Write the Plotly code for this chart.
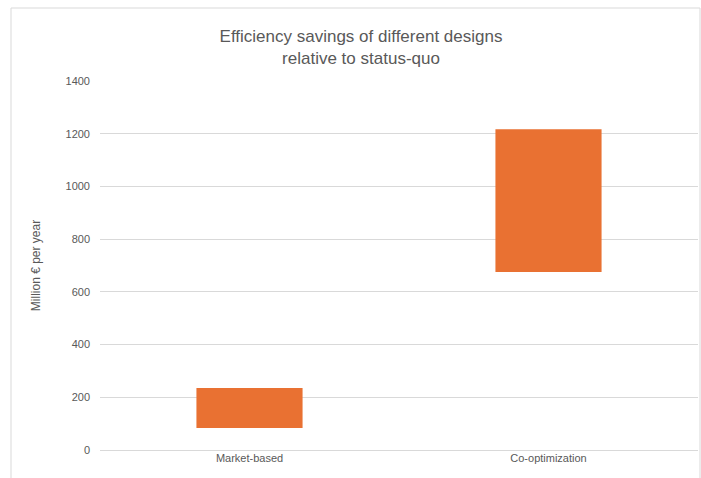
import plotly.graph_objects as go

designs = ["Market-based", "Co-optimization"]
savings_low = [83, 675]
savings_high = [235, 1217]
y_ticks = [0, 200, 400, 600, 800, 1000, 1200, 1400]

bar_heights = [hi - lo for lo, hi in zip(savings_low, savings_high)]

# plot area geometry in pixels (used for the outer frame and title placement)
W, H = 701, 478
L, R, T, B = 100, 3, 81, 28
PW, PH = W - L - R, H - T - B

fig = go.Figure(
    go.Bar(
        x=designs,
        y=bar_heights,
        base=savings_low,
        width=0.355,
        marker=dict(color="#E97132", line=dict(width=0)),
        hoverinfo="x+y",
    )
)

FONT = "Liberation Sans, Arial, sans-serif"
axis_font = dict(family=FONT, size=11, color="#595959")

fig.update_layout(
    width=W,
    height=H,
    margin=dict(l=L, r=R, t=T, b=B),
    paper_bgcolor="white",
    plot_bgcolor="white",
    showlegend=False,
    title=dict(
        text="Efficiency savings of different designs<br>relative to status-quo",
        x=(361 - L) / PW,
        xanchor="center",
        xref="paper",
        y=1 - 42 / H,
        yanchor="middle",
        font=dict(family=FONT, size=17, color="#595959"),
    ),
    xaxis=dict(
        range=[-0.5, 1.5],
        showgrid=False,
        showline=False,
        ticks="",
        tickfont=axis_font,
        fixedrange=True,
    ),
    yaxis=dict(
        range=[0, 1400],
        tickvals=y_ticks,
        ticktext=[str(v) for v in y_ticks],
        showgrid=True,
        gridcolor="#D9D9D9",
        gridwidth=1,
        zeroline=True,
        zerolinecolor="#D9D9D9",
        zerolinewidth=1,
        showline=False,
        ticks="",
        ticklabelstandoff=9,
        tickfont=axis_font,
        title=dict(text="Million € per year",
                   font=dict(family=FONT, size=12, color="#595959"),
                   standoff=22),
        fixedrange=True,
    ),
    shapes=[
        dict(
            type="rect",
            xref="paper",
            yref="paper",
            x0=(11 - L) / PW,
            x1=(700 - L) / PW,
            y0=-0.2,
            y1=(H - B - 8) / PH,
            line=dict(color="#D9D9D9", width=1),
            fillcolor="rgba(0,0,0,0)",
            layer="below",
        )
    ],
)

fig.write_html("out.html")
